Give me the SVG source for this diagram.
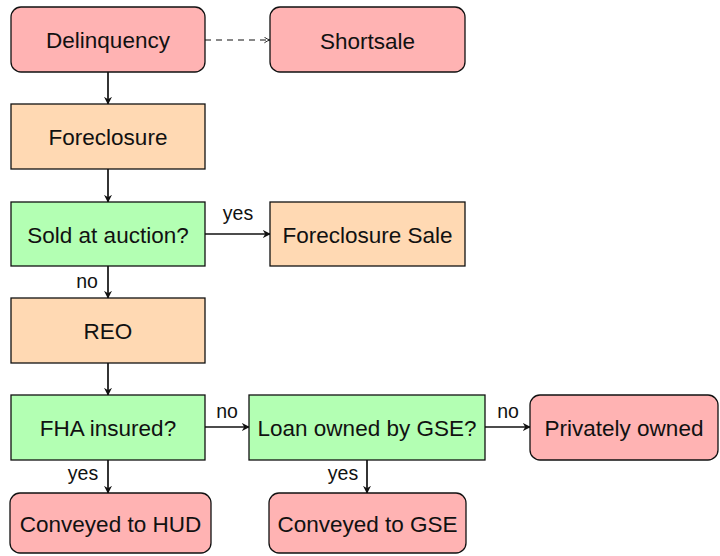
<svg xmlns="http://www.w3.org/2000/svg" width="720" height="556" viewBox="0 0 720 556">
<style>
.n text{font-family:"Liberation Sans",Arial,sans-serif;font-size:22.5px;fill:#111;text-anchor:middle;dominant-baseline:central}
.red{fill:#ffb3b3;stroke:#111;stroke-width:1.3}
.org{fill:#ffd9b3;stroke:#111;stroke-width:1.3}
.grn{fill:#b3ffb3;stroke:#111;stroke-width:1.3}
.e{stroke:#111;stroke-width:1.7;fill:none;marker-end:url(#ah)}
.d{stroke:#111;stroke-width:1;fill:none;stroke-dasharray:6 5;marker-end:url(#oh)}
.l{font-family:"Liberation Sans",Arial,sans-serif;font-size:19.5px;fill:#111;text-anchor:middle}
</style>
<defs>
<marker id="ah" viewBox="0 0 10 10" refX="9" refY="5" markerWidth="8" markerHeight="8" markerUnits="userSpaceOnUse" orient="auto">
<path d="M0,0 L10,5 L0,10 L3,5 Z" fill="#111"/>
</marker>
<marker id="oh" viewBox="0 0 10 10" refX="9" refY="5" markerWidth="7" markerHeight="7" markerUnits="userSpaceOnUse" orient="auto">
<path d="M1,1 Q5,4 9,5 Q5,6 1,9" fill="none" stroke="#111" stroke-width="1.3"/>
</marker>
</defs>
<g id="connectors">
<path class="e" d="M108,72 V104"/>
<path class="d" d="M205,40 H270"/>
<path class="e" d="M108,169 V202"/>
<path class="e" d="M205,234 H270"/>
<path class="e" d="M108,266 V298"/>
<path class="e" d="M108,363 V395"/>
<path class="e" d="M205,427 H249"/>
<path class="e" d="M485,427 H530"/>
<path class="e" d="M108,460 V493"/>
<path class="e" d="M367,460 V493"/>
<text class="l" x="238" y="220">yes</text>
<text class="l" x="87" y="288">no</text>
<text class="l" x="227" y="418">no</text>
<text class="l" x="508" y="418">no</text>
<text class="l" x="83" y="480">yes</text>
<text class="l" x="343" y="480">yes</text>
</g>
<g id="delinquency" class="n"><rect class="red" x="11" y="7" width="194" height="65" rx="10"/><text x="108" y="40">Delinquency</text></g>
<g id="shortsale" class="n"><rect class="red" x="270" y="7" width="195" height="65" rx="10"/><text x="367.5" y="41">Shortsale</text></g>
<g id="foreclosure" class="n"><rect class="org" x="11" y="104" width="194" height="65"/><text x="108" y="137">Foreclosure</text></g>
<g id="sold" class="n"><rect class="grn" x="11" y="202" width="194" height="64"/><text x="108" y="235">Sold at auction?</text></g>
<g id="foreclosuresale" class="n"><rect class="org" x="270" y="202" width="195" height="64"/><text x="367.5" y="235">Foreclosure Sale</text></g>
<g id="reo" class="n"><rect class="org" x="11" y="298" width="194" height="65"/><text x="108" y="331">REO</text></g>
<g id="fha" class="n"><rect class="grn" x="11" y="395" width="194" height="65"/><text x="108" y="428">FHA insured?</text></g>
<g id="gse" class="n"><rect class="grn" x="249" y="395" width="236" height="65"/><text x="367" y="428">Loan owned by GSE?</text></g>
<g id="private" class="n"><rect class="red" x="530" y="395" width="188" height="65" rx="10"/><text x="624" y="428">Privately owned</text></g>
<g id="hud" class="n"><rect class="red" x="10" y="493" width="201" height="60" rx="10"/><text x="110.5" y="524">Conveyed to HUD</text></g>
<g id="convgse" class="n"><rect class="red" x="269" y="493" width="197" height="60" rx="10"/><text x="367.5" y="524">Conveyed to GSE</text></g>
</svg>
